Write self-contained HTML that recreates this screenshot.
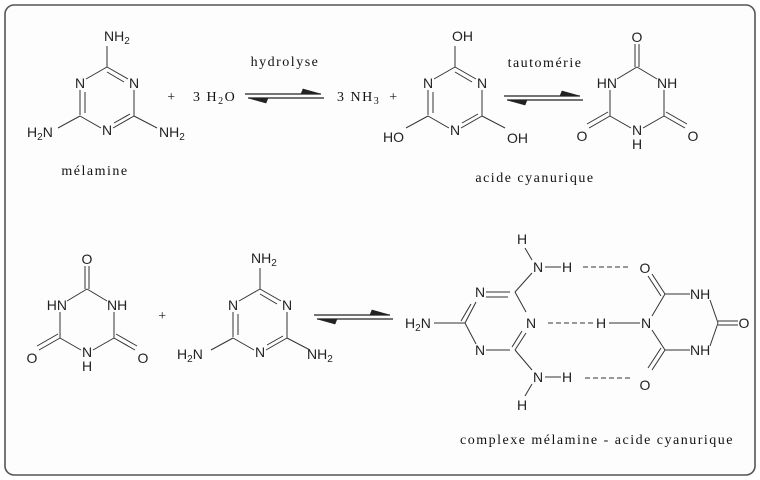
<!DOCTYPE html>
<html><head><meta charset="utf-8"><style>
html,body{margin:0;padding:0;background:#fff;}
svg{display:block}
.a{font-family:"Liberation Sans",sans-serif;font-size:14px;fill:#222}
.s{font-family:"Liberation Serif",serif;font-size:14px;fill:#111;letter-spacing:1.5px}
.sub{font-size:10px}
</style></head><body>
<svg width="760" height="480" viewBox="0 0 760 480" xmlns="http://www.w3.org/2000/svg">
<rect x="5" y="5" width="750" height="470" rx="9" fill="#fdfdfd" stroke="#555" stroke-width="1.6"/>
<defs>
<g id="mel" stroke="#333" stroke-width="1" fill="none">
<path d="M107,67 L86,79 M107,67 L128,79 M107,72 L124,82 M80,90 L80,115 M85,92 L85,113 M80,116 L101,128 M113,128 L134,116 M114,123 L130,114 M134,90 L134,116 M107,67 L107,46 M80,116 L58,128 M134,116 L157,128"/>
</g>
<g id="keto" stroke="#333" stroke-width="1" fill="none">
<path d="M637,67 L617,79 M637,67 L657,79 M610,90 L610,116 M610,116 L631,128 M643,128 L664,116 M664,90 L664,116 M635,67 L635,44 M639,67 L639,44 M610,116 L589,128 M608,112 L587,124 M664,116 L685,128 M666,112 L687,124"/>
</g>
<g id="eq" fill="#222" stroke="#222" stroke-width="1.2">
<path d="M0,0 L76,0 M3,4 L79,4" fill="none"/>
<path d="M56,0 L76,0 L58,-5 Z" stroke-width="0.6"/>
<path d="M3,4 L23,4 L21,9 Z" stroke-width="0.6"/>
</g>
</defs>

<use href="#mel"/>
<text class="a" x="80" y="88" text-anchor="middle">N</text>
<text class="a" x="134" y="88" text-anchor="middle">N</text>
<text class="a" x="107" y="135" text-anchor="middle">N</text>
<text class="a" x="104" y="41">NH<tspan class="sub" dy="3">2</tspan></text>
<text class="a" x="27" y="137">H<tspan class="sub" dy="3">2</tspan><tspan dy="-3">N</tspan></text>
<text class="a" x="159" y="137">NH<tspan class="sub" dy="3">2</tspan></text>
<text class="s" x="95" y="175" text-anchor="middle">mélamine</text>

<text class="s" x="172" y="101" text-anchor="middle">+</text>
<text class="s" x="193" y="101">3 H<tspan class="sub" dy="3">2</tspan><tspan dy="-3">O</tspan></text>
<use href="#eq" x="245" y="94"/>
<text class="s" x="285" y="66" text-anchor="middle">hydrolyse</text>
<text class="s" x="337" y="101">3 NH<tspan class="sub" dy="3">3</tspan></text>
<text class="s" x="394" y="101" text-anchor="middle">+</text>

<use href="#mel" x="348"/>
<text class="a" x="428" y="88" text-anchor="middle">N</text>
<text class="a" x="482" y="88" text-anchor="middle">N</text>
<text class="a" x="455" y="135" text-anchor="middle">N</text>
<text class="a" x="452" y="41">OH</text>
<text class="a" x="383" y="142">HO</text>
<text class="a" x="507" y="143">OH</text>

<use href="#eq" x="504" y="96"/>
<text class="s" x="545" y="67" text-anchor="middle">tautomérie</text>

<use href="#keto"/>
<text class="a" x="637" y="42" text-anchor="middle">O</text>
<text class="a" x="617" y="88" text-anchor="end">HN</text>
<text class="a" x="657" y="88">NH</text>
<text class="a" x="637" y="135" text-anchor="middle">N</text>
<text class="a" x="637" y="149" text-anchor="middle">H</text>
<text class="a" x="582" y="141" text-anchor="middle">O</text>
<text class="a" x="693" y="141" text-anchor="middle">O</text>
<text class="s" x="535" y="182" text-anchor="middle">acide cyanurique</text>

<use href="#keto" x="-550" y="222"/>
<text class="a" x="87" y="264" text-anchor="middle">O</text>
<text class="a" x="67" y="310" text-anchor="end">HN</text>
<text class="a" x="107" y="310">NH</text>
<text class="a" x="87" y="357" text-anchor="middle">N</text>
<text class="a" x="87" y="371" text-anchor="middle">H</text>
<text class="a" x="32" y="363" text-anchor="middle">O</text>
<text class="a" x="143" y="363" text-anchor="middle">O</text>

<text class="s" x="163" y="320" text-anchor="middle">+</text>

<use href="#mel" x="153" y="222"/>
<text class="a" x="233" y="310" text-anchor="middle">N</text>
<text class="a" x="287" y="310" text-anchor="middle">N</text>
<text class="a" x="260" y="357" text-anchor="middle">N</text>
<text class="a" x="251" y="263">NH<tspan class="sub" dy="3">2</tspan></text>
<text class="a" x="177" y="359">H<tspan class="sub" dy="3">2</tspan><tspan dy="-3">N</tspan></text>
<text class="a" x="307" y="359">NH<tspan class="sub" dy="3">2</tspan></text>

<use href="#eq" x="314" y="315"/>

<g stroke="#333" stroke-width="1" fill="none">
<path d="M486,292 L510,292 M486,297 L508,297 M515,292 L526,312 M526,333 L515,350 M522,331 L512,347 M510,350 L486,350 M476,344 L465,323 M476,302 L465,323 M471,304 L461,321 M434,323 L465,323"/>
<path d="M515,292 L532,273 M545,267 L561,267 M532,260 L525,248"/>
<path d="M515,350 L532,370 M545,377 L561,377 M532,384 L525,396"/>
<path d="M583,267 L628,267 M548,323 L594,323 M585,378 L630,378" stroke-dasharray="5,3"/>
<path d="M609,323 L640,323"/>
<path d="M652,316 L665,294 M665,294 L690,294 M710,300 L718,323 M718,323 L710,346 M690,350 L665,350 M665,350 L652,330 M718,321 L738,321 M718,325 L738,325 M665,294 L652,274 M661,296 L648,276 M665,350 L652,370 M661,348 L648,368"/>
</g>
<text class="a" x="480" y="297" text-anchor="middle">N</text>
<text class="a" x="531" y="328" text-anchor="middle">N</text>
<text class="a" x="480" y="355" text-anchor="middle">N</text>
<text class="a" x="405" y="328">H<tspan class="sub" dy="3">2</tspan><tspan dy="-3">N</tspan></text>
<text class="a" x="538" y="272" text-anchor="middle">N</text>
<text class="a" x="567" y="272" text-anchor="middle">H</text>
<text class="a" x="522" y="244" text-anchor="middle">H</text>
<text class="a" x="538" y="382" text-anchor="middle">N</text>
<text class="a" x="567" y="382" text-anchor="middle">H</text>
<text class="a" x="522" y="410" text-anchor="middle">H</text>
<text class="a" x="601" y="328" text-anchor="middle">H</text>
<text class="a" x="646" y="328" text-anchor="middle">N</text>
<text class="a" x="645" y="273" text-anchor="middle">O</text>
<text class="a" x="645" y="390" text-anchor="middle">O</text>
<text class="a" x="690" y="299">NH</text>
<text class="a" x="690" y="355">NH</text>
<text class="a" x="744" y="328" text-anchor="middle">O</text>
<text class="s" x="597" y="444" text-anchor="middle">complexe mélamine - acide cyanurique</text>
</svg>
</body></html>
